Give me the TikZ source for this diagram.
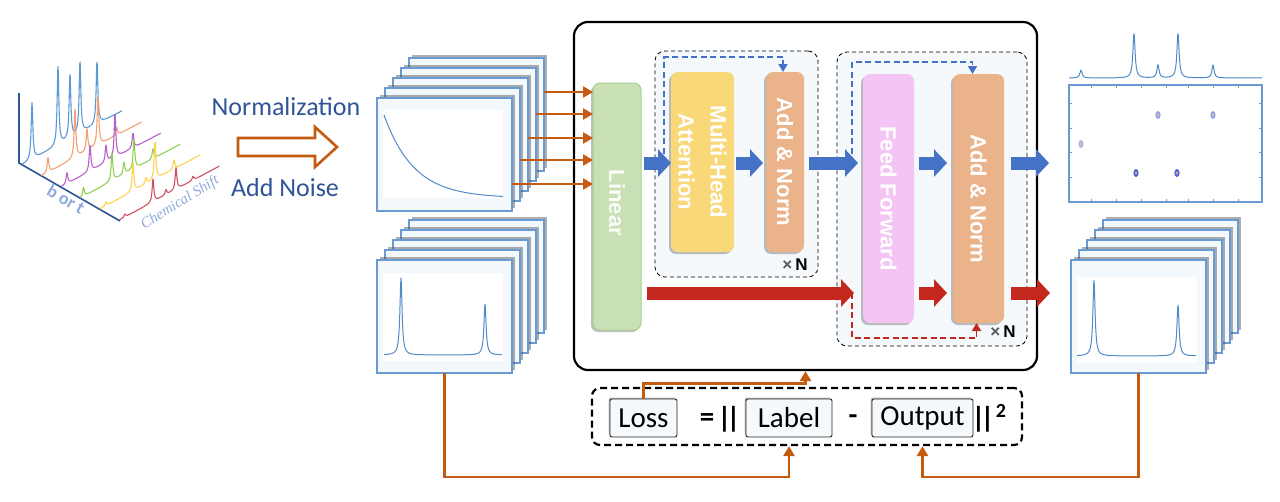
\documentclass[tikz,border=0pt]{standalone}
\usepackage{fontspec}
\setmainfont{Carlito}
\newfontfamily\hel{Liberation Sans}
\newfontfamily\serifit{Liberation Serif}
\usetikzlibrary{arrows.meta,shadows,calc}
\definecolor{orgA}{HTML}{C55A11}
\definecolor{blkB}{HTML}{4472C4}
\definecolor{blkR}{HTML}{C4281C}
\definecolor{navy}{HTML}{2F5597}
\definecolor{pnlB}{HTML}{6A9AD4}
\definecolor{pnlF}{HTML}{F3F8FC}
\definecolor{crv}{HTML}{4F8AC9}
\definecolor{grpF}{HTML}{F5F9FB}
\definecolor{linF}{HTML}{C9E0B6}
\definecolor{linD}{HTML}{A9D18E}
\definecolor{mhaF}{HTML}{F8D878}
\definecolor{anF}{HTML}{EAB38A}
\definecolor{ffF}{HTML}{F4C4F4}
\definecolor{lblue}{HTML}{8FAADC}
\definecolor{spB}{HTML}{5B9BD5}
\definecolor{spO}{HTML}{F4A070}
\definecolor{spP}{HTML}{B660CD}
\definecolor{spG}{HTML}{92D050}
\definecolor{spY}{HTML}{FFD24D}
\definecolor{spR}{HTML}{D0505F}
\definecolor{dotB}{HTML}{5A5AE6}
\definecolor{dotY}{HTML}{B8E04A}
\tikzset{
  panel/.style={draw=pnlB, line width=1.3pt, fill=pnlF, minimum width=135pt, minimum height=113pt, inner sep=0pt, outer sep=0pt, drop shadow={shadow xshift=3pt, shadow yshift=3pt, opacity=0.45, fill=black!70}},
  block/.style={rounded corners=7pt, inner sep=0pt, outer sep=0pt, drop shadow={shadow xshift=-2pt, shadow yshift=-2pt, opacity=0.25, fill=black}},
  blocktext/.style={text=white, font={\hel\bfseries\fontsize{22}{32}\selectfont}, rotate=-90, align=center, inner sep=0pt},
  grp/.style={draw=black, line width=0.8pt, dash pattern=on 4pt off 3pt, rounded corners=10pt, fill=grpF, inner sep=0pt},
  barB/.style={blkB, line width=13pt, -{Triangle[width=27pt,length=13pt]}},
  barR/.style={blkR, line width=13pt, -{Triangle[width=27pt,length=13pt]}},
  orgarr/.style={orgA, line width=2.6pt, -{Triangle[width=11pt,length=10pt]}},
  skipB/.style={blkB, line width=1.8pt, dash pattern=on 6pt off 3.5pt, -{Triangle[width=9pt,length=8pt]}},
  skipR/.style={blkR, line width=1.8pt, dash pattern=on 6pt off 3.5pt, -{Triangle[width=9pt,length=8pt]}},
  lossbox/.style={draw=black!85, line width=0.9pt, fill=grpF, rounded corners=2pt, minimum height=38pt, inner sep=0pt, font={\fontsize{29}{32}\selectfont}, drop shadow={shadow xshift=-1.5pt, shadow yshift=1.5pt, opacity=0.25, fill=black}},
  sym/.style={font={\bfseries\fontsize{29}{32}\selectfont}, inner sep=0pt},
  timesN/.style={font={\hel\bfseries\fontsize{17}{20}\selectfont}, inner sep=0pt},
  spec/.style={line width=1.1pt, line join=round},
  thinsp/.style={crv, line width=1pt, line join=round},
  normtxt/.style={text=navy, font={\fontsize{26}{30}\selectfont}, inner sep=0pt},
}
\begin{document}
\begin{tikzpicture}[x=1pt,y=-1pt,
  declare function={lz(\u,\c,\h)=\h/(1+(100*(\u-\c))*(100*(\u-\c)));
                    pk(\u,\c,\h)=\h/(1+min(abs(\u-\c)/1.3,90)*min(abs(\u-\c)/1.3,90));}]
\useasboundingbox[fill=white] (0,0) rectangle (1280,501);

% ---------- left 3D spectra ----------
\draw[navy, line width=1.6pt] (19,93) -- (19,163) -- (120,221);
\draw[spec, spB] plot[domain=0:1,samples=300,variable=\t] ({22+100*\t},{165-54*\t-lz(\t,.10,57)-lz(\t,.36,79)-lz(\t,.48,64)-lz(\t,.58,72)-lz(\t,.75,63)});
\draw[spec, spO] plot[domain=0:1,samples=300,variable=\t] ({41.5+100*\t},{176-54*\t-lz(\t,.065,15)-lz(\t,.335,49)-lz(\t,.455,22)-lz(\t,.565,49)-lz(\t,.75,8)});
\draw[spec, spP] plot[domain=0:1,samples=300,variable=\t] ({61+100*\t},{187-54*\t-lz(\t,.06,11)-lz(\t,.29,26)-lz(\t,.45,17)-lz(\t,.54,44)-lz(\t,.72,15)});
\draw[spec, spG] plot[domain=0:1,samples=300,variable=\t] ({80.5+100*\t},{198-54*\t-lz(\t,.03,9)-lz(\t,.315,28)-lz(\t,.435,12)-lz(\t,.535,30)-lz(\t,.725,10)});
\draw[spec, spY] plot[domain=0:1,samples=300,variable=\t] ({100+100*\t},{209-54*\t-lz(\t,.06,4)-lz(\t,.33,28)-lz(\t,.46,6)-lz(\t,.55,38)-lz(\t,.74,9)});
\draw[spec, spR] plot[domain=0:1,samples=300,variable=\t] ({119.5+100*\t},{220-54*\t-lz(\t,.055,3)-lz(\t,.335,23)-lz(\t,.465,5)-lz(\t,.565,22)-lz(\t,.735,4)});
\node[rotate=-30, text=lblue, font={\bfseries\fontsize{18}{20}\selectfont}, inner sep=0pt] (bort) at (66,199) {b or t};
\node[rotate=32, text=lblue, font={\serifit\itshape\fontsize{15}{17}\selectfont}, inner sep=0pt] (cshift) at (180,203) {Chemical Shift};

% ---------- normalization ----------
\node[normtxt] (norm) at (286,107) {Normalization};
\node[normtxt] (addn) at (285,188) {Add Noise};
\draw[orgA, line width=2.6pt, fill=white, line join=miter] (238,138) -- (315,138) -- (315,127) -- (337,147) -- (315,167) -- (315,156) -- (238,156) -- cycle;

% ---------- panel stacks ----------
\foreach \i in {4,3,2,1,0} {
  \node[panel] (pa\i) at ({444.5+8*\i},{154.5-10*\i}) {};
}
\fill[white] (383,110) rectangle (503,198);
\draw[thinsp] plot[domain=0:119,samples=80] ({384+\x},{198-83*exp(-\x/30)});

\foreach \i in {4,3,2,1,0} {
  \node[panel] (pb\i) at ({444.5+8*\i},{316.5-10*\i}) {};
}
\fill[white] (383,273) rectangle (503,361);
\draw[thinsp] plot[domain=0:118,samples=300] ({384+\x},{355-pk(\x,17,77)-pk(\x,101,51)});

\foreach \i in {4,3,2,1,0} {
  \node[panel] (pr\i) at ({1138.5+8*\i},{316.5-10*\i}) {};
}
\fill[white] (1077,277) rectangle (1197,362);
\draw[thinsp] plot[domain=0:119,samples=300] ({1077+\x},{356-pk(\x,17,76)-pk(\x,101,51)});

% ---------- right top spectrum + 2D ----------
\draw[thinsp] plot[domain=0:193,samples=400] ({1069+\x},{78-pk(\x,12,8)-pk(\x,65,45)-pk(\x,89,13)-pk(\x,109,45)-pk(\x,144,13)});
\node[draw=pnlB, line width=1.2pt, minimum width=193pt, minimum height=117pt, inner sep=0pt] (map) at (1165.5,143.5) {};
\foreach \xx in {1091,1116,1141,1166,1188,1213,1238} {
  \draw[pnlB, line width=0.8pt] (\xx,85) -- (\xx,88) (\xx,202) -- (\xx,199);
}
\foreach \yy in {103,128,152,177} {
  \draw[pnlB, line width=0.8pt] (1069,\yy) -- (1072,\yy) (1262,\yy) -- (1259,\yy);
}
\foreach \px/\py/\op in {1158/115/0.6,1213/115/0.6,1081/144/0.45,1136/173/1,1177/173/1} {
  \fill[dotB, opacity=\op] (\px,\py) ellipse [x radius=2.6pt, y radius=4pt];
  \fill[dotY] (\px,\py) ellipse [x radius=1pt, y radius=1.8pt];
}

% ---------- main model box ----------
\node[draw, line width=2.2pt, rounded corners=14pt, minimum width=463pt, minimum height=348pt, inner sep=0pt] (main) at (805.5,196) {};
\node[grp, minimum width=163pt, minimum height=226pt] (g1) at (736.5,164) {};
\node[grp, minimum width=190pt, minimum height=294pt] (g2) at (932,199) {};

\node[block, draw=linD, line width=1pt, fill=linF, minimum width=48pt, minimum height=247pt] (lin) at (617,206.5) {};
\node[blocktext, text=white!90!linF] (linT) at (617,203) {Linear};
\node[block, fill=mhaF, minimum width=63pt, minimum height=180pt] (mha) at (702.5,162) {};
\node[blocktext] (mhaT) at (702.5,162) {Multi-Head\\Attention};
\node[block, fill=anF, minimum width=38pt, minimum height=180pt] (an1) at (785,162) {};
\node[blocktext] (an1T) at (785,162) {Add \& Norm};
\node[block, fill=ffF, minimum width=51pt, minimum height=249pt] (ff) at (888.5,198.5) {};
\node[blocktext] (ffT) at (888.5,198.5) {Feed Forward};
\node[block, fill=anF, minimum width=51pt, minimum height=249pt] (an2) at (978.5,198.5) {};
\node[blocktext] (an2T) at (978.5,198.5) {Add \& Norm};

\node[timesN] (xn1) at (795,265) {\textcolor{black!65}{×}\,N};
\node[timesN] (xn2) at (1003,332) {\textcolor{black!65}{×}\,N};

\coordinate (bl) at (0,163);
\coordinate (rd) at (0,293);
\coordinate (outB) at (1049,163);
\coordinate (outR) at (1050,293);

% skip connections
\draw[skipB] (664,163) -- (664,57) -| ($(an1.north)+(-2,0)$);
\draw[skipB] (852,163) -- (852,62) -| ($(an2.north)+(-6,0)$);
\draw[skipR] (852,293) -- (852,338) -| ($(an2.south)+(-2,0)$);

% block arrows
\draw[barB, shorten <=3pt] (lin.east |- bl) -- (mha.west |- bl);
\draw[barB, shorten <=2pt, shorten >=3pt] (mha.east |- bl) -- (an1.west |- bl);
\draw[barB, shorten <=5pt, shorten >=5pt] (an1.east |- bl) -- (ff.west |- bl);
\draw[barB, shorten <=5pt, shorten >=6pt] (ff.east |- bl) -- (an2.west |- bl);
\draw[barB, shorten <=7pt] (an2.east |- bl) -- (outB);
\draw[barR, shorten <=6pt, shorten >=9pt] (lin.east |- rd) -- (ff.west |- rd);
\draw[barR, shorten <=5pt, shorten >=6pt] (ff.east |- rd) -- (an2.west |- rd);
\draw[barR, shorten <=7pt] (an2.east |- rd) -- (outR);

% input arrows
\draw[orgarr] (pa4.east |- 0,92) -- (lin.west |- 0,92);
\draw[orgarr] (pa3.east |- 0,114) -- (lin.west |- 0,114);
\draw[orgarr] (pa2.east |- 0,138) -- (lin.west |- 0,138);
\draw[orgarr] (pa1.east |- 0,160) -- (lin.west |- 0,160);
\draw[orgarr] (pa0.east |- 0,184) -- (lin.west |- 0,184);

% ---------- loss ----------
\node[draw, line width=2.2pt, dash pattern=on 7pt off 4pt, rounded corners=8pt, minimum width=430pt, minimum height=57pt, inner sep=0pt] (lossbar) at (807,416.5) {};
\node[lossbox, minimum width=67pt] (lossB) at (643.5,418) {Loss};
\node[lossbox, minimum width=86pt] (labB) at (789,418) {Label};
\node[lossbox, minimum width=101pt] (outBx) at (922.5,418) {Output};
\node[sym] (eq) at (707,420) {=};
\node[sym] (nl) at (729,419) {|\kern-0.16em|};
\node[sym] (mn) at (853,420) {-};
\node[sym] (nr) at (983,419) {|\kern-0.16em|};
\node[font={\bfseries\fontsize{20}{22}\selectfont}, inner sep=0pt] (sq) at (1001,411) {2};

\draw[orgarr] (lossB.north) -- ++(0,-15) -| (main.south);
\draw[orgarr] (pb0.south) -- ++(0,104) -| (labB.south |- lossbar.south);
\draw[orgarr] (pr0.south) -- ++(0,104) -| (outBx.south |- lossbar.south);
\end{tikzpicture}
\end{document}
